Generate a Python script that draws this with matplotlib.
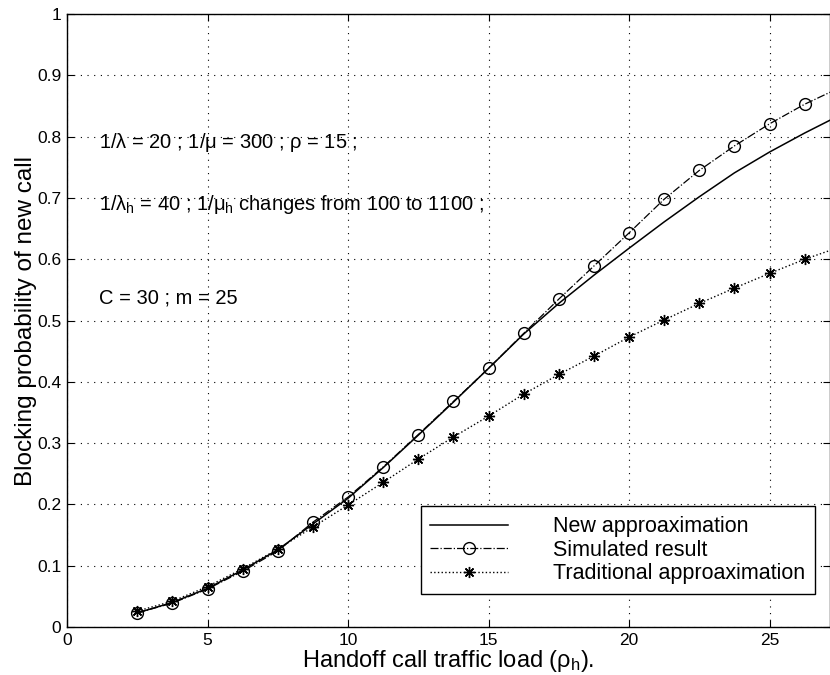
import matplotlib
matplotlib.use("Agg")
import matplotlib.pyplot as plt
import numpy as np

plt.rcParams.update({
    'font.family': ['Liberation Sans', 'DejaVu Sans'],
    'mathtext.fontset': 'custom',
    'mathtext.rm': 'Liberation Sans',
    'mathtext.it': 'Liberation Sans',
    'xtick.direction': 'in',
    'ytick.direction': 'in',
    'xtick.top': True,
    'ytick.right': True,
})

# handoff traffic load rho_h = (1/mu_h) / (1/lambda_h), 1/mu_h from 100 to 1100
rho_h = [2.5, 3.75, 5, 6.25, 7.5, 8.75, 10, 11.25, 12.5, 13.75, 15,
         16.25, 17.5, 18.75, 20, 21.25, 22.5, 23.75, 25, 26.25, 27.5]
new_approx = [0.023, 0.040, 0.063, 0.093, 0.126, 0.168, 0.210, 0.260, 0.313, 0.367, 0.422,
              0.478, 0.528, 0.574, 0.618, 0.661, 0.702, 0.741, 0.775, 0.806, 0.835]
simulated = [0.023, 0.039, 0.062, 0.091, 0.124, 0.171, 0.212, 0.261, 0.314, 0.368, 0.422,
             0.479, 0.535, 0.589, 0.643, 0.698, 0.745, 0.785, 0.821, 0.853, 0.880]
traditional = [0.026, 0.042, 0.066, 0.095, 0.127, 0.163, 0.199, 0.236, 0.274, 0.310, 0.344,
               0.380, 0.412, 0.442, 0.473, 0.501, 0.528, 0.553, 0.577, 0.600, 0.620]

xticks = [0, 5, 10, 15, 20, 25]
yticks = [0, 0.1, 0.2, 0.3, 0.4, 0.5, 0.6, 0.7, 0.8, 0.9, 1]
ytick_labels = ['0', '0.1', '0.2', '0.3', '0.4', '0.5', '0.6', '0.7', '0.8', '0.9', '1']

fig = plt.figure(figsize=(8.3, 6.75), dpi=100)
ax = fig.add_axes([0.0807, 0.0711, 0.9193, 0.908])

ax.plot(rho_h, new_approx, '-', color='black', linewidth=1.1, label='New approaximation')
ax.plot(rho_h, simulated, '-.', color='black', linewidth=0.9, marker='o', markersize=8.5,
        markerfacecolor='none', markeredgewidth=1.0, label='Simulated result')
ax.plot(rho_h, traditional, ':', color='black', linewidth=1.0, marker=(8, 2, 0), markersize=8,
        markeredgewidth=1.0, label='Traditional approaximation')

ax.set_xlim(0, 27.15)
ax.set_ylim(0, 1)
ax.set_xticks(xticks)
ax.set_yticks(yticks)
ax.set_yticklabels(ytick_labels)
ax.tick_params(labelsize=12.5, length=5, width=0.8, pad=4)
ax.grid(True, linestyle=(0, (1, 5)), color='black', linewidth=0.8)
for s in ax.spines.values():
    s.set_linewidth(1.0)

ax.set_xlabel(r'Handoff call traffic load ($\rho_\mathrm{h}$).', fontsize=17, labelpad=0)
ax.set_ylabel('Blocking probability of new call', fontsize=17.5, labelpad=0)

ax.text(1.14, 0.79, r'1/$\lambda$ = 20 ; 1/$\mu$ = 300 ; $\rho$ = 15 ;', fontsize=14.5, va='center')
ax.text(1.14, 0.69, r'1/$\lambda_\mathrm{h}$ = 40 ; 1/$\mu_\mathrm{h}$ changes from 100 to 1100 ;',
        fontsize=14.5, va='center')
ax.text(1.14, 0.537, 'C = 30 ; m = 25', fontsize=14.5, va='center')

leg = ax.legend(loc='lower right', bbox_to_anchor=(0.98, 0.054), fontsize=15.5, handlelength=3.6,
                handletextpad=2.1, borderpad=0.45, labelspacing=0.12, fancybox=False,
                framealpha=1, edgecolor='black', borderaxespad=0)
leg.get_frame().set_linewidth(1.0)

fig.savefig('out.png', dpi=100)
